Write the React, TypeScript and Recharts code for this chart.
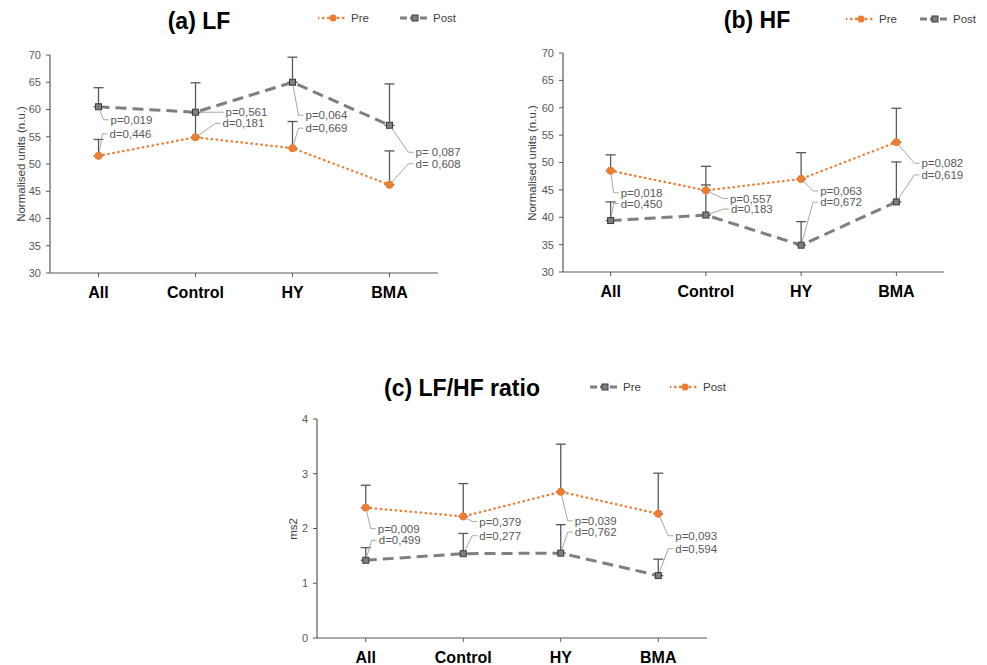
import { LineChart, Line, XAxis, YAxis, ErrorBar, LabelList } from "recharts";

// ─── Data ────────────────────────────────────────────────────────────────────

const categories = ["All", "Control", "HY", "BMA"];

// (a) LF
const lfTicks = [30, 35, 40, 45, 50, 55, 60, 65, 70];
const lfPre = [51.5, 54.9, 52.9, 46.2];
const lfPreSd = [3.0, 4.5, 4.9, 6.2];
const lfPost = [60.5, 59.5, 65.0, 57.1];
const lfPostSd = [3.5, 5.4, 4.6, 7.6];
const lfP = ["p=0,019", "p=0,561", "p=0,064", "p= 0,087"];
const lfD = ["d=0,446", "d=0,181", "d=0,669", "d= 0,608"];

// (b) HF
const hfTicks = [30, 35, 40, 45, 50, 55, 60, 65, 70];
const hfPre = [48.5, 44.9, 47.0, 53.7];
const hfPreSd = [2.9, 4.4, 4.8, 6.2];
const hfPost = [39.4, 40.4, 34.9, 42.8];
const hfPostSd = [3.4, 5.5, 4.3, 7.3];
const hfP = ["p=0,018", "p=0,557", "p=0,063", "p=0,082"];
const hfD = ["d=0,450", "d=0,183", "d=0,672", "d=0,619"];

// (c) LF/HF ratio
const ratioTicks = [0, 1, 2, 3, 4];
const ratioPre = [1.42, 1.54, 1.55, 1.14];
const ratioPreSd = [0.23, 0.37, 0.52, 0.3];
const ratioPost = [2.38, 2.22, 2.67, 2.27];
const ratioPostSd = [0.41, 0.6, 0.87, 0.74];
const ratioP = ["p=0,009", "p=0,379", "p=0,039", "p=0,093"];
const ratioD = ["d=0,499", "d=0,277", "d=0,762", "d=0,594"];

// ─── Styling ────────────────────────────────────────────────────────────────

const ORANGE = "#ED7D31";
const GREY = "#7F7F7F";
const TEXT = "#595959";
const AXIS = "#595959";
const FONT = '"Liberation Sans", Arial, sans-serif';
const X_AXIS_H = 30;

type Kind = "dot" | "dash";

function CircleDot(props: any) {
  const { cx, cy, index } = props;
  if (cx == null || cy == null) return null;
  return <circle key={`c-${index}`} cx={cx} cy={cy} r={3.6} fill={ORANGE} stroke={ORANGE} />;
}

function SquareDot(props: any) {
  const { cx, cy, index } = props;
  if (cx == null || cy == null) return null;
  return (
    <rect
      key={`s-${index}`}
      x={cx - 3}
      y={cy - 3}
      width={6}
      height={6}
      fill={GREY}
      stroke="#3a3a3a"
      strokeWidth={1}
    />
  );
}

const LINE_STYLE: Record<Kind, any> = {
  dot: { stroke: ORANGE, strokeWidth: 2.3, strokeDasharray: "0.5 4.5", strokeLinecap: "round", dot: CircleDot },
  dash: { stroke: GREY, strokeWidth: 3, strokeDasharray: "11 6", strokeLinecap: "butt", dot: SquareDot },
};

// annotation text offsets from its anchor point, in px
const renderNote = (texts: string[], offsets: number[][]) => (props: any) => {
  const { x, y, index } = props;
  const t = texts[index];
  const o = offsets[index];
  if (t == null || x == null || y == null) return null;
  const tx = x + o[0];
  const ty = y + o[1];
  const ex = tx - 7;
  const len = Math.hypot(ex - x, ty - y) || 1;
  const sx = x + ((ex - x) / len) * 4;
  const sy = y + ((ty - y) / len) * 4;
  return (
    <g key={`note-${index}`}>
      <polyline
        points={`${sx},${sy} ${ex},${ty} ${tx - 2},${ty}`}
        fill="none"
        stroke="#A6A6A6"
        strokeWidth={1}
      />
      <text x={tx} y={ty} dy="0.36em" fontSize={11.5} fill={TEXT} fontFamily={FONT}>
        {t}
      </text>
    </g>
  );
};

function LegendItem({ kind, label, left, top }: { kind: Kind; label: string; left: number; top: number }) {
  const s = LINE_STYLE[kind];
  return (
    <div style={{ position: "absolute", left, top: top - 6, height: 12, display: "flex", alignItems: "center" }}>
      <svg width={30} height={12}>
        <line
          x1={0}
          y1={6}
          x2={30}
          y2={6}
          stroke={s.stroke}
          strokeWidth={s.strokeWidth}
          strokeDasharray={kind === "dot" ? "0.5 4.5" : "7 3"}
          strokeLinecap={s.strokeLinecap}
        />
        {kind === "dot" ? (
          <circle cx={15} cy={6} r={3.6} fill={ORANGE} />
        ) : (
          <rect x={12} y={3} width={6} height={6} fill={GREY} stroke="#3a3a3a" />
        )}
      </svg>
      <span style={{ fontFamily: FONT, fontSize: 11.5, color: "#404040", marginLeft: 3 }}>{label}</span>
    </div>
  );
}

interface PanelProps {
  left: number;
  top: number;
  width: number;
  height: number;
  margin: { top: number; right: number; bottom: number; left: number };
  yWidth: number;
  domain: number[];
  ticks: number[];
  title: string;
  titleAt: number[];
  yLabel: string;
  yLabelAt: number[];
  legendAt: number[][];
  preKind: Kind;
  pre: number[];
  preSd: number[];
  post: number[];
  postSd: number[];
  preNotes: string[];
  preOffsets: number[][];
  postNotes: string[];
  postOffsets: number[][];
  tickMargin: number;
}

function Panel(p: PanelProps) {
  const postKind: Kind = p.preKind === "dot" ? "dash" : "dot";
  const data = categories.map((c, i) => ({
    cat: c,
    pre: p.pre[i],
    preErr: [0, p.preSd[i]],
    post: p.post[i],
    postErr: [0, p.postSd[i]],
  }));
  const pad = (p.width - p.margin.left - p.yWidth - p.margin.right) / 8;
  const margin = { ...p.margin, bottom: p.margin.bottom - X_AXIS_H };
  const series = (key: "pre" | "post", kind: Kind, notes: string[], offsets: number[][]) => {
    const s = LINE_STYLE[kind];
    return (
      <Line
        key={key}
        dataKey={key}
        type="linear"
        stroke={s.stroke}
        strokeWidth={s.strokeWidth}
        strokeDasharray={s.strokeDasharray}
        strokeLinecap={s.strokeLinecap}
        dot={s.dot}
        activeDot={false}
        isAnimationActive={false}
      >
        <ErrorBar dataKey={`${key}Err`} direction="y" width={5} stroke={TEXT} strokeWidth={1.3} />
        <LabelList dataKey={key} content={renderNote(notes, offsets)} />
      </Line>
    );
  };
  return (
    <>
      <div style={{ position: "absolute", left: p.left, top: p.top }}>
        <LineChart width={p.width} height={p.height} data={data} margin={margin}>
          <XAxis
            dataKey="cat"
            height={X_AXIS_H}
            padding={{ left: pad, right: pad }}
            axisLine={{ stroke: AXIS, strokeWidth: 1.2 }}
            tickLine={{ stroke: AXIS }}
            tickSize={4}
            tickMargin={p.tickMargin}
            tick={{ fill: "#000", fontSize: 16, fontWeight: "bold", fontFamily: FONT }}
            interval={0}
          />
          <YAxis
            width={p.yWidth}
            domain={p.domain}
            ticks={p.ticks}
            axisLine={{ stroke: AXIS, strokeWidth: 1.2 }}
            tickLine={{ stroke: AXIS }}
            tickSize={4}
            tickMargin={5}
            tick={{ fill: TEXT, fontSize: 11, fontFamily: FONT }}
          />
          {series("post", postKind, p.postNotes, p.postOffsets)}
          {series("pre", p.preKind, p.preNotes, p.preOffsets)}
        </LineChart>
      </div>
      <div
        style={{
          position: "absolute",
          left: p.titleAt[0],
          top: p.titleAt[1],
          transform: "translate(-50%, -50%)",
          fontFamily: FONT,
          fontWeight: "bold",
          fontSize: 23,
          whiteSpace: "nowrap",
          color: "#000",
        }}
      >
        {p.title}
      </div>
      <div
        style={{
          position: "absolute",
          left: p.yLabelAt[0],
          top: p.yLabelAt[1],
          transform: "translate(-50%, -50%) rotate(-90deg)",
          fontFamily: FONT,
          fontSize: 11.5,
          whiteSpace: "nowrap",
          color: "#404040",
        }}
      >
        {p.yLabel}
      </div>
      <LegendItem kind={p.preKind} label="Pre" left={p.legendAt[0][0]} top={p.legendAt[0][1]} />
      <LegendItem kind={postKind} label="Post" left={p.legendAt[1][0]} top={p.legendAt[1][1]} />
    </>
  );
}

export default function App() {
  return (
    <div
      style={{
        position: "absolute",
        left: 0,
        top: 0,
        width: 987,
        height: 665,
        background: "#fff",
        overflow: "hidden",
      }}
    >
      <Panel
        left={0}
        top={0}
        width={480}
        height={310}
        margin={{ top: 55, right: 42, bottom: 37, left: 0 }}
        yWidth={50}
        domain={[30, 70]}
        ticks={lfTicks}
        title="(a) LF"
        titleAt={[199, 21]}
        yLabel="Normalised units (n.u.)"
        yLabelAt={[21, 164]}
        legendAt={[[318, 18], [400, 18]]}
        preKind="dot"
        pre={lfPre}
        preSd={lfPreSd}
        post={lfPost}
        postSd={lfPostSd}
        postNotes={lfP}
        postOffsets={[[12, 13], [30, 0], [13, 33], [26, 27]]}
        preNotes={lfD}
        preOffsets={[[11, -22], [27, -14], [13, -20], [26, -21]]}
        tickMargin={10}
      />
      <Panel
        left={490}
        top={0}
        width={497}
        height={310}
        margin={{ top: 53, right: 43, bottom: 38, left: 0 }}
        yWidth={73}
        domain={[30, 70]}
        ticks={hfTicks}
        title="(b) HF"
        titleAt={[757, 20]}
        yLabel="Normalised units (n.u.)"
        yLabelAt={[532, 163]}
        legendAt={[[846, 19], [920, 19]]}
        preKind="dot"
        pre={hfPre}
        preSd={hfPreSd}
        post={hfPost}
        postSd={hfPostSd}
        preNotes={hfP}
        preOffsets={[[10, 22], [24, 8], [19, 12], [25, 21]]}
        postNotes={hfD}
        postOffsets={[[10, -17], [25, -6], [19, -43], [25, -27]]}
        tickMargin={10}
      />
      <Panel
        left={260}
        top={310}
        width={500}
        height={355}
        margin={{ top: 109, right: 53, bottom: 27, left: 0 }}
        yWidth={57}
        domain={[0, 4]}
        ticks={ratioTicks}
        title="(c) LF/HF ratio"
        titleAt={[462, 388]}
        yLabel="ms2"
        yLabelAt={[293, 529]}
        legendAt={[[590, 387], [670, 387]]}
        preKind="dash"
        pre={ratioPre}
        preSd={ratioPreSd}
        post={ratioPost}
        postSd={ratioPostSd}
        postNotes={ratioP}
        postOffsets={[[12, 21], [16, 5], [14, 29], [17, 22]]}
        preNotes={ratioD}
        preOffsets={[[13, -20], [16, -18], [14, -21], [17, -27]]}
        tickMargin={10}
      />
    </div>
  );
}
